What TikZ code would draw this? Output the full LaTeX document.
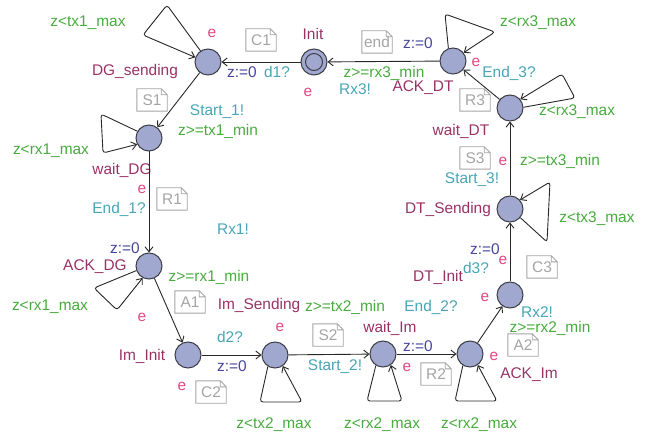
\documentclass[tikz,border=0pt]{standalone}
\usepackage{fontspec}
\setmainfont{Liberation Sans}
\usetikzlibrary{arrows.meta}

\definecolor{locfill}{RGB}{160,168,208}
\definecolor{locline}{RGB}{62,62,72}
\definecolor{edgecol}{RGB}{40,40,40}
\definecolor{lnamecol}{RGB}{153,51,102}
\definecolor{ratecol}{RGB}{224,72,132}
\definecolor{guardcol}{RGB}{72,172,62}
\definecolor{synccol}{RGB}{72,166,182}
\definecolor{assigncol}{RGB}{70,70,160}
\definecolor{notecol}{RGB}{165,165,165}

% comment box with a folded top-right corner
\newcommand{\stickynote}[3]{%
  \node[notetxt] (#1) at (#2) {#3};
  \draw[notebd] (#1.south west) -- (#1.south east) -- ([yshift=-6bp]#1.north east)
    -- ([xshift=-6bp]#1.north east) -- (#1.north west) -- cycle
    ([xshift=-6bp]#1.north east) -- ([xshift=-6bp,yshift=-6bp]#1.north east)
    -- ([yshift=-6bp]#1.north east);}

\begin{document}
\begin{tikzpicture}[x=1bp,y=-1bp,
  font=\fontsize{15.5}{18}\selectfont,
  loc/.style={circle,draw=locline,fill=locfill,line width=1bp,minimum size=26bp,inner sep=0pt},
  edge/.style={draw=edgecol,line width=0.9bp,-{Straight Barb[length=5bp,width=8bp]}},
  loopedge/.style={edge,rounded corners=3bp},
  lname/.style={text=lnamecol,inner sep=0pt},
  rate/.style={text=ratecol,inner sep=0pt},
  guard/.style={text=guardcol,inner sep=0pt},
  sync/.style={text=synccol,inner sep=0pt},
  assign/.style={text=assigncol,inner sep=0pt},
  notetxt/.style={text=notecol,minimum width=30bp,minimum height=22bp,inner sep=1bp},
  notebd/.style={draw=notecol,line width=0.9bp}]

\useasboundingbox[fill=white] (0,0) rectangle (646,436);

% locations
\node[loc] (dgs)    at (208,62)  {};
\node[loc] (init)   at (314,62)  {};
\draw[locline,line width=1bp] (init.center) circle (8.5bp);
\node[loc] (ackdt)  at (453,61)  {};
\node[loc] (waitdt) at (510,108) {};
\node[loc] (dtsend) at (510,209) {};
\node[loc] (dtinit) at (510,295) {};
\node[loc] (ackim)  at (470,354) {};
\node[loc] (waitim) at (383,354) {};
\node[loc] (imsend) at (275,355) {};
\node[loc] (iminit) at (188,355) {};
\node[loc] (ackdg)  at (149,266) {};
\node[loc] (waitdg) at (149,138) {};

% location names
\node[lname] at (135,72)  {DG\_sending};
\node[lname] at (313,34)  {Init};
\node[lname] at (423,88)  {ACK\_DT};
\node[lname] at (461,131) {wait\_DT};
\node[lname] at (448,210) {DT\_Sending};
\node[lname] at (438,277) {DT\_Init};
\node[lname] at (529,375) {ACK\_Im};
\node[lname] at (390,328) {wait\_Im};
\node[lname] at (259,306) {Im\_Sending};
\node[lname] at (142,356) {Im\_Init};
\node[lname] at (95,267)  {ACK\_DG};
\node[lname] at (122,170) {wait\_DG};

% exit rates
\node[rate] at (212,33)  {e};
\node[rate] at (308,92)  {e};
\node[rate] at (476,62)  {e};
\node[rate] at (503,161) {e};
\node[rate] at (503,260) {e};
\node[rate] at (485,297) {e};
\node[rate] at (494,356) {e};
\node[rate] at (407,367) {e};
\node[rate] at (280,327) {e};
\node[rate] at (182,386) {e};
\node[rate] at (142,317) {e};
\node[rate] at (142,189) {e};

% loop corner points
\coordinate (dgsA) at (167,5);   \coordinate (dgsB) at (143,35);
\coordinate (wdgA) at (101,114); \coordinate (wdgB) at (103,153);
\coordinate (adgA) at (94,288);  \coordinate (adgB) at (117,310);
\coordinate (imsA) at (260,402); \coordinate (imsB) at (302,402);
\coordinate (wimA) at (367,401); \coordinate (wimB) at (402,401);
\coordinate (aimA) at (455,401); \coordinate (aimB) at (497,401);
\coordinate (dtsA) at (547,242); \coordinate (dtsB) at (550,182);
\coordinate (wdtA) at (575,98);  \coordinate (wdtB) at (562,74);
\coordinate (adtA) at (445,14);  \coordinate (adtB) at (495,32);

% self loops
\draw[loopedge] (dgs.124) -- (dgsA) -- (dgsB) -- (dgs.160);
\draw[loopedge] (waitdg.150) -- (wdgA) -- (wdgB) -- (waitdg.208);
\draw[loopedge] (ackdg.200) -- (adgA) -- (adgB) -- (ackdg.242);
\draw[loopedge] (imsend.238) -- (imsA) -- (imsB) -- (imsend.305);
\draw[loopedge] (waitim.238) -- (wimA) -- (wimB) -- (waitim.305);
\draw[loopedge] (ackim.238) -- (aimA) -- (aimB) -- (ackim.305);
\draw[loopedge] (dtsend.320) -- (dtsA) -- (dtsB) -- (dtsend.42);
\draw[loopedge] (waitdt.3) -- (wdtA) -- (wdtB) -- (waitdt.40);
\draw[loopedge] (ackdt.110) -- (adtA) -- (adtB) -- (ackdt.38);

% transitions
\draw[edge] (init) -- (dgs);
\draw[edge] (ackdt) -- (init);
\draw[edge] (waitdt) -- (ackdt);
\draw[edge] (dtsend) -- (waitdt);
\draw[edge] (dtinit) -- (dtsend);
\draw[edge] (ackim) -- (dtinit);
\draw[edge] (waitim) -- (ackim);
\draw[edge] (imsend) -- (waitim);
\draw[edge] (iminit) -- (imsend);
\draw[edge] (ackdg) -- (iminit);
\draw[edge] (waitdg) -- (ackdg);
\draw[edge] (dgs) -- (waitdg);

% guards
\node[guard] at (88,23)   {z<tx1\_max};
\node[guard] at (384,73)  {z>=rx3\_min};
\node[guard] at (538,23)  {z<rx3\_max};
\node[guard] at (577,112) {z<rx3\_max};
\node[guard] at (560,161) {z>=tx3\_min};
\node[guard] at (597,219) {z<tx3\_max};
\node[guard] at (550,328) {z>=rx2\_min};
\node[guard] at (479,425) {z<rx2\_max};
\node[guard] at (382,425) {z<rx2\_max};
\node[guard] at (274,425) {z<tx2\_max};
\node[guard] at (345,307) {z>=tx2\_min};
\node[guard] at (209,277) {z>=rx1\_min};
\node[guard] at (50,307)  {z<rx1\_max};
\node[guard] at (51,151)  {z<rx1\_max};
\node[guard] at (218,131) {z>=tx1\_min};

% synchronisations
\node[sync] at (277,72)  {d1?};
\node[sync] at (355,89)  {Rx3!};
\node[sync] at (509,73)  {End\_3?};
\node[sync] at (472,180) {Start\_3!};
\node[sync] at (476,268) {d3?};
\node[sync] at (537,312) {Rx2!};
\node[sync] at (431,307) {End\_2?};
\node[sync] at (335,367) {Start\_2!};
\node[sync] at (230,337) {d2?};
\node[sync] at (233,229) {Rx1!};
\node[sync] at (119,209) {End\_1?};
\node[sync] at (217,112) {Start\_1!};

% updates
\node[assign] at (242,72)  {z:=0};
\node[assign] at (418,43)  {z:=0};
\node[assign] at (485,249) {z:=0};
\node[assign] at (418,346) {z:=0};
\node[assign] at (232,366) {z:=0};
\node[assign] at (125,248) {z:=0};

% comments
\stickynote{nC1}{261,40}{C1}
\stickynote{nend}{377,42}{end}
\stickynote{nS1}{152,100}{S1}
\stickynote{nR1}{172,199}{R1}
\stickynote{nA1}{190,302}{A1}
\stickynote{nC2}{211,392}{C2}
\stickynote{nS2}{328,335}{S2}
\stickynote{nR2}{436,374}{R2}
\stickynote{nA2}{523,345}{A2}
\stickynote{nC3}{542,267}{C3}
\stickynote{nS3}{475,158}{S3}
\stickynote{nR3}{475,100}{R3}

\end{tikzpicture}
\end{document}
